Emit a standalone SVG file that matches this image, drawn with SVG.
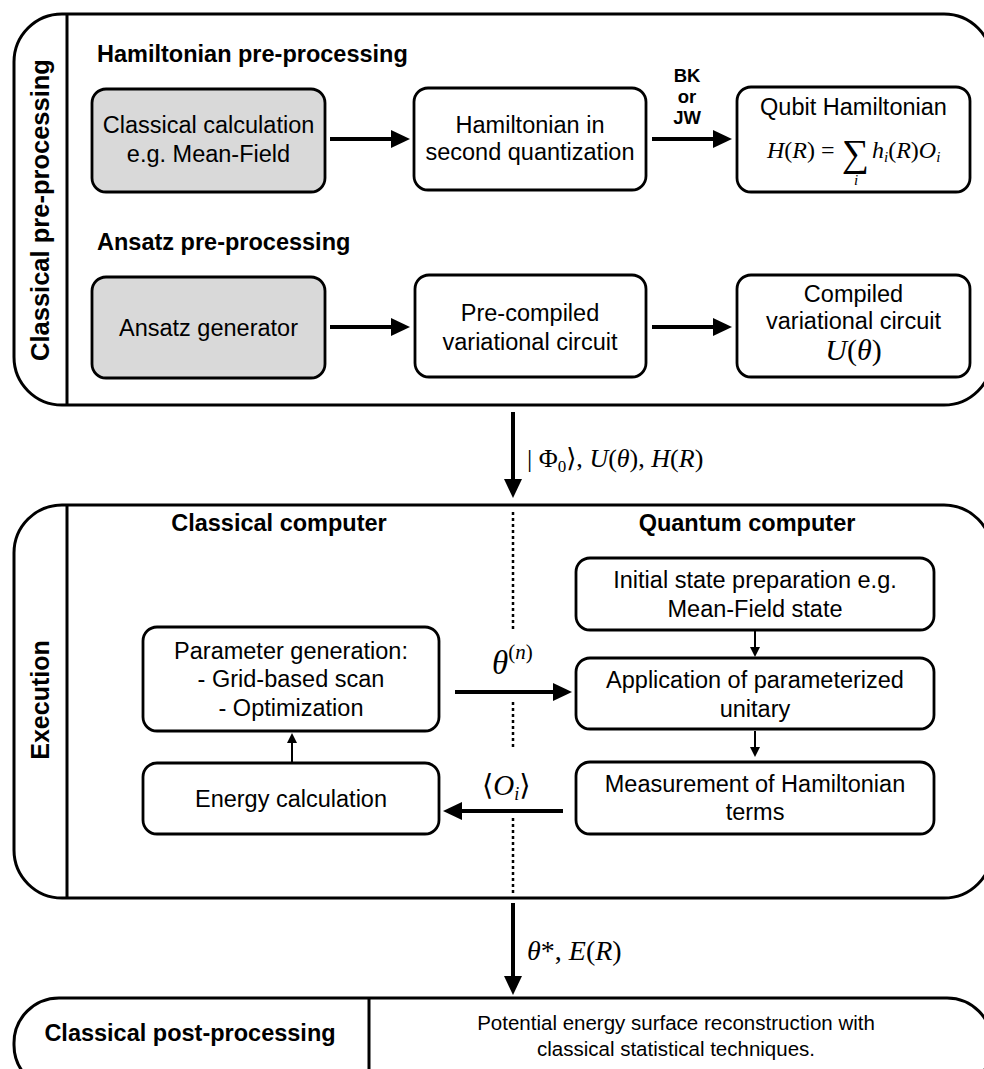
<svg xmlns="http://www.w3.org/2000/svg" width="984" height="1069" viewBox="0 0 984 1069">
<style>
.panel{fill:none;stroke:#000;stroke-width:3}
.box{fill:#fff;stroke:#000;stroke-width:2.8}
.gray{fill:#d9d9d9}
.t{font-family:"Liberation Sans",Arial,sans-serif;font-size:23.5px;fill:#000;text-anchor:middle}
.b{font-weight:bold}
.s{text-anchor:start}
.lbl{font-family:"Liberation Sans",Arial,sans-serif;font-weight:bold;font-size:18.5px;fill:#000;text-anchor:middle}
.m{font-family:"Liberation Serif","DejaVu Serif",serif;font-style:italic;fill:#000}
.up{font-style:normal}
.thick{stroke:#000;stroke-width:4;fill:none}
.thin{stroke:#000;stroke-width:2;fill:none}
.dot{stroke:#000;stroke-width:2.5;stroke-dasharray:3 3;fill:none}
</style>
<defs>
<marker id="ah" markerUnits="userSpaceOnUse" markerWidth="19" markerHeight="18" refX="8" refY="9" orient="auto"><path d="M0,0 L19,9 L0,18 z" fill="#000"/></marker>
<marker id="ahs" markerUnits="userSpaceOnUse" markerWidth="10" markerHeight="10" refX="4" refY="5" orient="auto"><path d="M0,0 L10,5 L0,10 z" fill="#000"/></marker>
</defs>
<rect width="984" height="1069" fill="#fff"/>

<g id="panel-pre">
<rect class="panel" x="14" y="14" width="978" height="391" rx="48"/>
<line class="panel" x1="67" y1="14" x2="67" y2="405"/>
<text class="t b" transform="translate(49,210) rotate(-90)" style="font-size:25.5px">Classical pre-processing</text>
<text class="t b s" x="97" y="62">Hamiltonian pre-processing</text>
<text class="t b s" x="97" y="250">Ansatz pre-processing</text>
</g>

<g id="panel-exec">
<rect class="panel" x="14" y="505" width="978" height="393" rx="48"/>
<line class="panel" x1="67" y1="505" x2="67" y2="898"/>
<text class="t b" transform="translate(49,700) rotate(-90)" style="font-size:25px">Execution</text>
<text class="t b" x="279" y="531">Classical computer</text>
<text class="t b" x="747" y="531">Quantum computer</text>
</g>

<g id="panel-post">
<rect class="panel" x="14" y="998" width="978" height="92" rx="45"/>
<line class="panel" x1="369" y1="998" x2="369" y2="1090"/>
<text class="t b" x="190" y="1041">Classical post-processing</text>
<text class="t" x="676" y="1030" style="font-size:20.5px">Potential energy surface reconstruction with</text>
<text class="t" x="676" y="1056" style="font-size:20.5px">classical statistical techniques.</text>
</g>

<g id="n-classical-calc">
<rect class="box gray" x="92" y="89" width="233" height="103" rx="14"/>
<text class="t" x="208.5" y="133">Classical calculation</text>
<text class="t" x="208.5" y="162">e.g. Mean-Field</text>
</g>
<g id="n-ham-second">
<rect class="box" x="414" y="88" width="232" height="102" rx="14"/>
<text class="t" x="530" y="133">Hamiltonian in</text>
<text class="t" x="530" y="160">second quantization</text>
</g>
<g id="n-qubit-ham">
<rect class="box" x="737" y="87" width="233" height="105" rx="14"/>
<text class="t" x="853.5" y="115">Qubit Hamiltonian</text>
<text class="m" x="767" y="158" font-size="24">H<tspan class="up">(</tspan>R<tspan class="up">) = </tspan><tspan class="up" x="842" y="166" font-size="38">∑</tspan><tspan x="854" y="185" font-size="15">i</tspan><tspan x="872" y="158">h</tspan><tspan font-size="15" dy="4">i</tspan><tspan class="up" dy="-4">(</tspan>R<tspan class="up">)</tspan>O<tspan font-size="15" dy="4">i</tspan></text>
</g>
<g id="n-ansatz-gen">
<rect class="box gray" x="92" y="277" width="233" height="101" rx="14"/>
<text class="t" x="208.5" y="336">Ansatz generator</text>
</g>
<g id="n-precompiled">
<rect class="box" x="415" y="275" width="231" height="102" rx="14"/>
<text class="t" x="530" y="321">Pre-compiled</text>
<text class="t" x="530" y="350">variational circuit</text>
</g>
<g id="n-compiled">
<rect class="box" x="737" y="275" width="233" height="102" rx="14"/>
<text class="t" x="853.5" y="302">Compiled</text>
<text class="t" x="853.5" y="329">variational circuit</text>
<text class="m" x="853.5" y="360" font-size="30" text-anchor="middle">U<tspan class="up">(</tspan>θ<tspan class="up">)</tspan></text>
</g>

<g id="n-param">
<rect class="box" x="143" y="627" width="296" height="104" rx="14"/>
<text class="t" x="291" y="659">Parameter generation:</text>
<text class="t" x="291" y="687">- Grid-based scan</text>
<text class="t" x="291" y="716">- Optimization</text>
</g>
<g id="n-energy">
<rect class="box" x="143" y="763" width="296" height="71" rx="14"/>
<text class="t" x="291" y="807">Energy calculation</text>
</g>
<g id="n-init">
<rect class="box" x="576" y="558" width="358" height="72" rx="14"/>
<text class="t" x="755" y="588">Initial state preparation e.g.</text>
<text class="t" x="755" y="617">Mean-Field state</text>
</g>
<g id="n-apply">
<rect class="box" x="576" y="658" width="358" height="71" rx="14"/>
<text class="t" x="755" y="688">Application of parameterized</text>
<text class="t" x="755" y="717">unitary</text>
</g>
<g id="n-measure">
<rect class="box" x="576" y="762" width="358" height="72" rx="14"/>
<text class="t" x="755" y="792">Measurement of Hamiltonian</text>
<text class="t" x="755" y="820">terms</text>
</g>

<g id="connectors">
<line class="thick" x1="330" y1="139" x2="399" y2="139" marker-end="url(#ah)"/>
<line class="thick" x1="652" y1="139" x2="721" y2="139" marker-end="url(#ah)"/>
<text class="lbl"><tspan x="687" y="82">BK</tspan><tspan x="687" y="103">or</tspan><tspan x="687" y="124">JW</tspan></text>
<line class="thick" x1="330" y1="327" x2="399" y2="327" marker-end="url(#ah)"/>
<line class="thick" x1="652" y1="327" x2="721" y2="327" marker-end="url(#ah)"/>

<line class="thick" x1="513" y1="412" x2="513" y2="487" marker-end="url(#ah)"/>
<text class="m" x="527" y="467" font-size="26"><tspan class="up">| Φ</tspan><tspan class="up" font-size="17" dy="5">0</tspan><tspan class="up" dy="-5">⟩, </tspan>U<tspan class="up">(</tspan>θ<tspan class="up">), </tspan>H<tspan class="up">(</tspan>R<tspan class="up">)</tspan></text>

<line class="dot" x1="513" y1="512" x2="513" y2="630"/>
<line class="dot" x1="513" y1="702" x2="513" y2="748"/>
<line class="dot" x1="513" y1="818" x2="513" y2="893"/>

<line class="thick" x1="455" y1="692" x2="561" y2="692" marker-end="url(#ah)"/>
<text class="m" x="492" y="674" font-size="33">θ<tspan class="up" font-size="21" dy="-15">(</tspan><tspan font-size="21">n</tspan><tspan class="up" font-size="21">)</tspan></text>
<line class="thick" x1="563" y1="811" x2="454" y2="811" marker-end="url(#ah)"/>
<text class="m" x="482" y="795" font-size="29"><tspan class="up">⟨</tspan>O<tspan font-size="18" dy="5">i</tspan><tspan class="up" dy="-5">⟩</tspan></text>

<line class="thin" x1="755" y1="631" x2="755" y2="651" marker-end="url(#ahs)"/>
<line class="thin" x1="755" y1="731" x2="755" y2="751" marker-end="url(#ahs)"/>
<line class="thin" x1="292" y1="762" x2="292" y2="739" marker-end="url(#ahs)"/>

<line class="thick" x1="513" y1="903" x2="513" y2="984" marker-end="url(#ah)"/>
<text class="m" x="527" y="960" font-size="28">θ<tspan class="up">*, </tspan>E<tspan class="up">(</tspan>R<tspan class="up">)</tspan></text>
</g>
</svg>
